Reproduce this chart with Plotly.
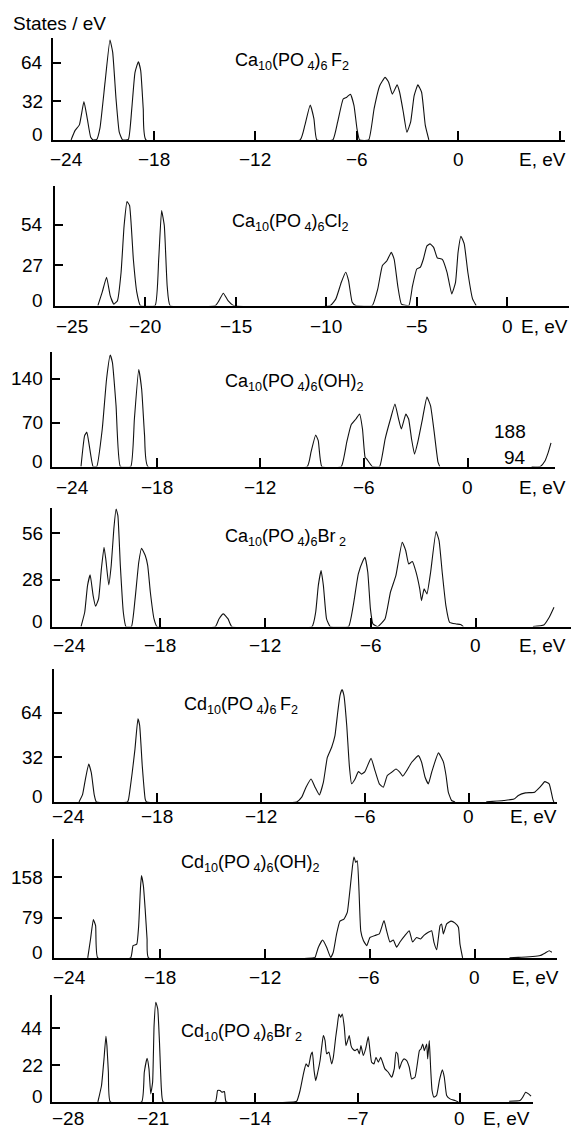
import plotly.graph_objects as go

W, H = 573, 1128

# ---------------- density of states, valence bands (E in eV, states/eV) ----------------
ca_f_e = [-22.9, -22.67, -22.41, -22.14, -21.94, -21.74, -21.59, -21.38, -21.19, -20.89, -20.6, -20.44,
          -20.24, -20.05, -19.85, -19.51, -19.31, -19.12, -18.92, -18.78, -18.63, -18.47, -9.35, -9.07,
          -8.75, -8.53, -8.36, -7.41, -7.13, -6.8, -6.59, -6.37, -6.16, -5.98, -5.83, -5.29, -4.97, -4.64,
          -4.32, -4.11, -3.89, -3.61, -3.46, -3.24, -3.03, -2.81, -2.6, -2.38, -2.16, -1.94, -1.73]
ca_f_dos = [0, 7.7, 12.5, 31.8, 17.5, 2.2, 0, 0.5, 10, 48, 83, 73,
            34, 6.4, 0, 0.5, 25.8, 56, 65, 57.6, 25.8, 0, 0, 12,
            29, 17.5, 0, 0, 14.7, 34, 35.5, 38, 28.5, 9, 0, 0, 26, 45,
            52, 48, 38, 45.7, 39.6, 23, 6.4, 14.7, 36.8, 45.7, 39.6, 12, 0]

ca_cl_e = [-22.62, -22.38, -22.14, -21.94, -21.74, -21.54, -21.34, -21.17, -21.01, -20.87, -20.66, -20.47,
           -20.27, -19.46, -19.26, -19.1, -18.95, -18.79, -18.63, -16.13, -15.93, -15.69, -15.43, -15.12,
           -9.78, -9.47, -9.17, -8.93, -8.77, -8.57, -8.37, -7.46, -7.16, -6.9, -6.65, -6.41, -6.25, -6.05,
           -5.85, -5.44, -5.24, -5.0, -4.8, -4.64, -4.44, -4.27, -4.07, -3.87, -3.59, -3.33, -3.07, -2.86,
           -2.72, -2.56, -2.38, -2.18, -1.92, -1.72]
ca_cl_dos = [0, 9, 19, 6.7, 1, 3.3, 22, 53.6, 69.6, 67, 31, 9,
             0, 0, 31, 63.6, 53.6, 13, 0, 0, 3.3, 8.3, 3.3, 0,
             0, 4.5, 15.6, 22.3, 16.7, 2.2, 0, 0, 11, 26.8, 30, 35.7, 31, 13,
             1, 0, 13, 24.5, 25.7, 31, 40, 41.3, 39, 32, 31, 22.3, 7.8, 15.6,
             35.7, 46.4, 41.3, 22.3, 4.5, 0]

ca_oh_e = [-22.38, -22.17, -22.04, -21.9, -21.68, -21.47, -21.15, -20.9, -20.69, -20.56, -20.35, -20.1,
           -19.5, -19.29, -19.04, -18.87, -18.7, -18.51, -9.29, -9.07, -8.8, -8.65, -8.44, -7.32, -7.0,
           -6.75, -6.47, -6.26, -6.09, -5.94, -5.84, -5.52, -5.1, -4.78, -4.47, -4.21, -4.0, -3.84, -3.58,
           -3.42, -3.25, -3.08, -2.89, -2.62, -2.36, -2.15, -1.94, -1.72, -1.62]
ca_oh_dos = [0, 49.5, 55, 33.5, 0, 0, 60, 140, 178, 166, 97, 0,
             0, 76, 155, 124, 49.5, 0, 0, 23, 50.5, 41.5, 0, 0, 39,
             66.5, 76, 84, 60, 15, 12, 0, 0, 44, 76, 100, 76, 60, 84,
             76, 44, 20, 39, 76, 111, 97, 55, 7, 0]

ca_br_e = [-22.5, -22.29, -22.13, -21.98, -21.81, -21.67, -21.5, -21.34, -21.19, -21.09, -20.92, -20.78,
           -20.63, -20.5, -20.4, -20.26, -20.09, -19.94, -19.63, -19.42, -19.21, -19.05, -18.84, -18.7,
           -18.55, -18.34, -18.17, -14.85, -14.64, -14.39, -14.12, -13.91, -9.34, -9.13, -8.98, -8.82,
           -8.69, -8.51, -8.3, -7.26, -6.99, -6.7, -6.43, -6.32, -6.16, -6.01, -5.87, -5.6, -5.18, -4.87,
           -4.56, -4.2, -4.0, -3.83, -3.62, -3.41, -3.2, -3.1, -2.95, -2.79, -2.58, -2.27, -2.1, -1.92,
           -1.71, -1.5, -1.13, -0.88, -0.71]
ca_br_dos = [0, 8.6, 24.6, 31, 18.6, 12.2, 16.6, 34.6, 47.6, 40.6, 25, 36.6,
             58.6, 70.5, 66.5, 36.6, 8.6, 0, 0, 16.6, 38.6, 47, 42.6, 36.6,
             20.6, 4.6, 0, 0, 4.6, 7.6, 4.6, 0, 0, 8.6, 24.6, 33.6,
             24.6, 4.6, 0, 0, 12.6, 31.6, 39.6, 41.6, 32.6, 10.6, 1.6, 0, 4.6, 20.6,
             30.6, 50.6, 45.6, 37.6, 39, 32.6, 22.6, 15.6, 22.6, 19.6, 32.6, 57, 51.6, 32.6,
             12.6, 2.6, 1.6, 1.2, 0]

cd_f_e = [-22.5, -22.3, -22.15, -21.94, -21.79, -21.62, -21.5, -19.7, -19.64, -19.43, -19.27, -19.1,
          -19.0, -18.85, -18.68, -18.6, -9.94, -9.65, -9.4, -9.11, -8.88, -8.63, -8.4, -8.17, -7.92,
          -7.73, -7.57, -7.44, -7.32, -7.21, -7.05, -6.9, -6.77, -6.57, -6.38, -6.19, -6.0, -5.65, -5.42,
          -5.17, -4.94, -4.71, -4.46, -4.21, -3.98, -3.82, -3.59, -3.3, -2.92, -2.73, -2.53, -2.34,
          -2.15, -1.76, -1.48, -1.32, -1.19, -1.0, -0.8]
cd_f_dos = [0, 5, 15, 27.3, 21, 5, 0, 0, 2, 21, 38, 59.7,
            55, 26, 2, 0, 0, 3.4, 10.6, 16.5, 10.6, 5, 14, 32, 39.3,
            47.7, 64.5, 76.5, 80.8, 76.5, 55, 26, 13, 16.5, 21.8, 20, 21.8, 31.4, 22.5,
            13, 10.6, 19, 21.3, 23.7, 21.3, 18.5, 22.5, 28.5, 33.3, 28.5, 17.7, 13,
            21.3, 35.3, 29, 19, 7, 1, 0]

cd_oh_e = [-22.1, -21.94, -21.78, -21.65, -21.53, -19.65, -19.51, -19.3, -19.19, -19.09, -19.03, -18.92,
           -18.82, -18.71, -18.63, -9.2, -9.11, -8.92, -8.68, -8.45, -8.22, -8.07, -7.88, -7.69, -7.46,
           -7.27, -7.12, -6.98, -6.89, -6.79, -6.7, -6.6, -6.5, -6.35, -6.16, -5.97, -5.68, -5.44, -5.17,
           -5.02, -4.83, -4.64, -4.45, -4.26, -3.97, -3.73, -3.54, -3.31, -3.08, -2.89, -2.64, -2.45,
           -2.32, -2.16, -1.97, -1.88, -1.78, -1.59, -1.34, -1.11, -0.92, -0.83, -0.68]
cd_oh_dos = [0, 37, 75, 63, 0, 0, 24, 27, 63, 135, 161, 141,
             96, 37, 0, 0, 1, 21, 35, 21, 1, 11, 47, 72, 76,
             89, 132, 177, 198, 187, 190, 132, 53, 34, 24, 40, 44, 47, 73,
             53, 31, 35, 21, 31, 44, 53, 31, 40, 37, 44, 50, 53,
             31, 16, 63, 66.5, 47, 66.5, 72, 68, 60, 27, 0]

cd_br_e = [-24.79, -24.54, -24.37, -24.24, -24.17, -24.07, -23.94, -21.79, -21.61, -21.42, -21.29, -21.17,
           -21.04, -20.94, -20.82, -20.69, -20.57, -20.44, -20.32, -16.74, -16.59, -16.42, -16.29, -16.12,
           -16.0, -11.3, -11.17, -10.94, -10.71, -10.53, -10.37, -10.21, -10.1, -9.98, -9.87, -9.73, -9.57,
           -9.46, -9.35, -9.23, -9.12, -8.96, -8.78, -8.66, -8.5, -8.39, -8.28, -8.16, -8.05, -7.91, -7.8,
           -7.68, -7.57, -7.45, -7.34, -7.18, -7.02, -6.88, -6.77, -6.61, -6.45, -6.27, -6.15, -6.04,
           -5.88, -5.74, -5.58, -5.42, -5.29, -5.13, -4.9, -4.67, -4.49, -4.37, -4.26, -4.14, -3.98,
           -3.82, -3.64, -3.46, -3.3, -3.07, -2.91, -2.77, -2.66, -2.54, -2.43, -2.27, -2.2, -2.09, -2.0,
           -1.9, -1.77, -1.59, -1.4, -1.2, -1.06, -0.9, -0.67, -0.33, -0.1]
cd_br_dos = [0, 9.8, 25.7, 39.2, 33.6, 17.7, 0, 0, 17.7, 26, 19.7, 4.8,
             11.7, 45.6, 59.5, 55.5, 35.6, 7.8, 0, 0, 6.8, 6.8, 5.8, 6.2,
             0, 0, 0.4, 6.8, 16.7, 22.7, 21, 27.7, 29.7, 18.7, 12.7, 17.7, 24.7,
             32.6, 39.6, 36.6, 28.7, 29.7, 22.7, 26.7, 38.6, 45.6, 52.5, 50.5, 52.5, 44.6, 33.6,
             36.6, 39.6, 33.6, 31.6, 30.6, 31.6, 28.7, 33.6, 27.7, 31.6, 39, 30.6, 23.7,
             22.7, 26.7, 23.7, 26.7, 23.7, 19.7, 17.7, 14.7, 19.7, 29.7, 28.7, 19.7, 23.7,
             25.7, 24.7, 20.7, 13.7, 14.7, 22.7, 30.6, 31.6, 34.6, 30.6, 34.6, 25.7, 36.6, 20.7,
             6.8, 2.8, 3.8, 12.7, 19.1, 14.7, 3.8, 1.8, 0.8, 0]

# ---------------- conduction-band onsets ----------------
ca_oh_cb_e = [3.7, 4.2, 4.45, 4.65, 4.82]
ca_oh_cb_dos = [0, 0, 8, 22, 38]
ca_br_cb_e = [3.25, 3.87, 4.18, 4.45]
ca_br_cb_dos = [0, 1, 5.6, 11.6]
cd_f_cb_e = [1.0, 2.0, 2.6, 2.85, 3.26, 3.79, 4.1, 4.38, 4.63, 4.84, 4.9]
cd_f_cb_dos = [0, 1, 2, 4.6, 6.5, 7, 10.6, 14.6, 13, 2, 0]
cd_oh_cb_e = [2.0, 2.5, 3.33, 3.75, 4.06, 4.27, 4.42]
cd_oh_cb_dos = [0, 1, 2.6, 4.6, 10, 14, 11]
cd_br_cb_e = [3.38, 4.13, 4.31, 4.51, 4.71, 4.88]
cd_br_cb_dos = [0.4, 0.8, 2.8, 5.8, 4.8, 3.4]

# ---------------- axis ticks ----------------
e_ticks_6 = [-24, -18, -12, -6, 0, 6]
e_ticks_5 = [-25, -20, -15, -10, -5, 0]
e_ticks_7 = [-28, -21, -14, -7, 0]
dos_ticks_ca_f = [0, 32, 64]
dos_ticks_ca_cl = [0, 27, 54]
dos_ticks_ca_oh = [0, 70, 140]
dos_ticks_ca_br = [0, 28, 56]
dos_ticks_cd_f = [0, 32, 64]
dos_ticks_cd_oh = [0, 79, 158]
dos_ticks_cd_br = [0, 22, 44]
cb_scale_labels = ["188", "94"]

titles = [
    "Ca<sub>10</sub>(PO<sub> 4</sub>)<sub>6 </sub>F<sub>2</sub>",
    "Ca<sub>10</sub>(PO<sub> 4</sub>)<sub>6</sub>Cl<sub>2</sub>",
    "Ca<sub>10</sub>(PO<sub> 4</sub>)<sub>6</sub>(OH)<sub>2</sub>",
    "Ca<sub>10</sub>(PO<sub> 4</sub>)<sub>6</sub>Br<sub> 2</sub>",
    "Cd<sub>10</sub>(PO<sub> 4</sub>)<sub>6 </sub>F<sub>2</sub>",
    "Cd<sub>10</sub>(PO<sub> 4</sub>)<sub>6</sub>(OH)<sub>2</sub>",
    "Cd<sub>10</sub>(PO<sub> 4</sub>)<sub>6</sub>Br<sub> 2</sub>",
]

curves = [
    (ca_f_e, ca_f_dos, None, None),
    (ca_cl_e, ca_cl_dos, None, None),
    (ca_oh_e, ca_oh_dos, ca_oh_cb_e, ca_oh_cb_dos),
    (ca_br_e, ca_br_dos, ca_br_cb_e, ca_br_cb_dos),
    (cd_f_e, cd_f_dos, cd_f_cb_e, cd_f_cb_dos),
    (cd_oh_e, cd_oh_dos, cd_oh_cb_e, cd_oh_cb_dos),
    (cd_br_e, cd_br_dos, cd_br_cb_e, cd_br_cb_dos),
]
e_ticks = [e_ticks_6, e_ticks_5, e_ticks_6, e_ticks_6, e_ticks_6, e_ticks_6, e_ticks_7]
dos_ticks = [dos_ticks_ca_f, dos_ticks_ca_cl, dos_ticks_ca_oh, dos_ticks_ca_br,
             dos_ticks_cd_f, dos_ticks_cd_oh, dos_ticks_cd_br]

# ---------------- panel geometry (pixels) ----------------
# x0: y-axis position, x1: end of energy axis, top: top of y axis, base: baseline,
# e_ref/e_ref_px: a reference energy and its pixel, pxe: px per eV, pxd: px per state/eV,
# row: centre of the tick-label row, title_x/title_y: formula placement, eev_x: "E, eV" left edge
frames = [
    dict(x0=52, x1=565, top=38, base=141, e_ref=-24, e_ref_px=52.5, pxe=16.9, pxd=1.203,
         row=159, title_x=233, title_y=61, eev_x=517, first_shift=14),
    dict(x0=54, x1=569, top=186, base=306.7, e_ref=-25, e_ref_px=54.8, pxe=18.1, pxd=1.494,
         row=326, title_x=230, title_y=223, eev_x=519, first_shift=17),
    dict(x0=51, x1=555, top=351.7, base=467.7, e_ref=-24, e_ref_px=53, pxe=17.28, pxd=0.626,
         row=487, title_x=223, title_y=382, eev_x=517, first_shift=19),
    dict(x0=51, x1=571, top=508, base=627.7, e_ref=-24, e_ref_px=54.7, pxe=17.55, pxd=1.668,
         row=645, title_x=223, title_y=537, eev_x=517, first_shift=15),
    dict(x0=53, x1=557, top=669, base=803, e_ref=-24, e_ref_px=53, pxe=17.33, pxd=1.39,
         row=816, title_x=182, title_y=705, eev_x=508, first_shift=15),
    dict(x0=53, x1=557, top=839, base=959, e_ref=-24, e_ref_px=54.5, pxe=17.5, pxd=0.511,
         row=977, title_x=179, title_y=863, eev_x=510, first_shift=15),
    dict(x0=51, x1=533, top=995, base=1103, e_ref=-28, e_ref_px=51, pxe=14.6, pxd=1.675,
         row=1118, title_x=179, title_y=1032, eev_x=481, first_shift=17),
]

FONT = "Liberation Sans, Arial, Helvetica, sans-serif"
FS_TICK = 19
FS_TITLE = 18
AXW = 2.2
LINE = dict(color="#111111", width=1.1)


def minus(v):
    return str(v).replace("-", "\u2212")


def text(x, y, s, size, xanchor="center", xref="paper", yref="paper", yshift=0):
    return dict(x=x, xref=xref, y=y, yref=yref, text=s, xanchor=xanchor, yanchor="middle",
                showarrow=False, yshift=yshift, font=dict(family=FONT, size=size, color="black"))


fig = go.Figure()
annotations = []
layout = {}

for i, fr in enumerate(frames):
    n = "" if i == 0 else str(i + 1)
    xa, ya = "x" + n, "y" + n
    left_px = fr["x0"] + AXW / 2
    bottom_px = fr["base"] - AXW / 2
    e_lo = fr["e_ref"] + (left_px - fr["e_ref_px"]) / fr["pxe"]
    e_hi = fr["e_ref"] + (fr["x1"] - fr["e_ref_px"]) / fr["pxe"]
    d_hi = (bottom_px - fr["top"]) / fr["pxd"]

    layout["xaxis" + n] = dict(
        domain=[left_px / W, fr["x1"] / W], range=[e_lo, e_hi], anchor=ya,
        showline=True, linecolor="black", linewidth=AXW, mirror=False,
        ticks="inside", ticklen=9, tickwidth=2.4, tickcolor="black",
        tickvals=[t for t in e_ticks[i] if t > e_lo + 0.3], showticklabels=False,
        showgrid=False, zeroline=False, fixedrange=True)
    layout["yaxis" + n] = dict(
        domain=[1 - bottom_px / H, 1 - fr["top"] / H], range=[0, d_hi], anchor=xa,
        showline=True, linecolor="black", linewidth=AXW,
        ticks="inside", ticklen=8, tickwidth=2.2, tickcolor="black",
        tickvals=[t for t in dos_ticks[i] if t > 0], showticklabels=False,
        showgrid=False, zeroline=False, fixedrange=True)

    e, dos, cb_e, cb_dos = curves[i]
    fig.add_trace(go.Scatter(x=e, y=dos, mode="lines", line=dict(shape="spline", smoothing=0.4, **LINE),
                             xaxis=xa, yaxis=ya, showlegend=False, hoverinfo="skip"))
    if cb_e is not None:
        fig.add_trace(go.Scatter(x=cb_e, y=cb_dos, mode="lines",
                                 line=dict(shape="spline", smoothing=0.4, **LINE),
                                 xaxis=xa, yaxis=ya, showlegend=False, hoverinfo="skip"))

    # energy tick labels, placed under the tick positions of the energy scale
    row_y = 1 - fr["row"] / H
    for k, t in enumerate(e_ticks[i]):
        if t > 0:
            continue
        px = fr["e_ref_px"] + (t - fr["e_ref"]) * fr["pxe"]
        if k == 0:
            px += fr["first_shift"]
        annotations.append(text(px / W, row_y, minus(t), FS_TICK))
    annotations.append(text(fr["eev_x"] / W, row_y, "E, eV", FS_TICK, xanchor="left"))

    # DOS tick labels
    for t in dos_ticks[i]:
        annotations.append(text(45 / W, t, str(t), FS_TICK, xanchor="right", yref=ya,
                                yshift=5 if t == 0 else 0))

    # compound formula
    annotations.append(text(fr["title_x"] / W, 1 - fr["title_y"] / H, titles[i], FS_TITLE, xanchor="left"))

# scale marks of the conduction-band curve in the Ca10(PO4)6(OH)2 panel
annotations.append(text(528 / W, 1 - 431 / H, cb_scale_labels[0], FS_TICK, xanchor="right"))
annotations.append(text(528 / W, 1 - 457 / H, cb_scale_labels[1], FS_TICK, xanchor="right"))

# y-axis caption
annotations.append(text(11 / W, 1 - 23 / H, "States / eV", FS_TICK, xanchor="left"))

fig.update_layout(
    width=W, height=H, margin=dict(l=0, r=0, t=0, b=0),
    paper_bgcolor="white", plot_bgcolor="white",
    annotations=annotations, **layout)

fig.write_html("out.html")
